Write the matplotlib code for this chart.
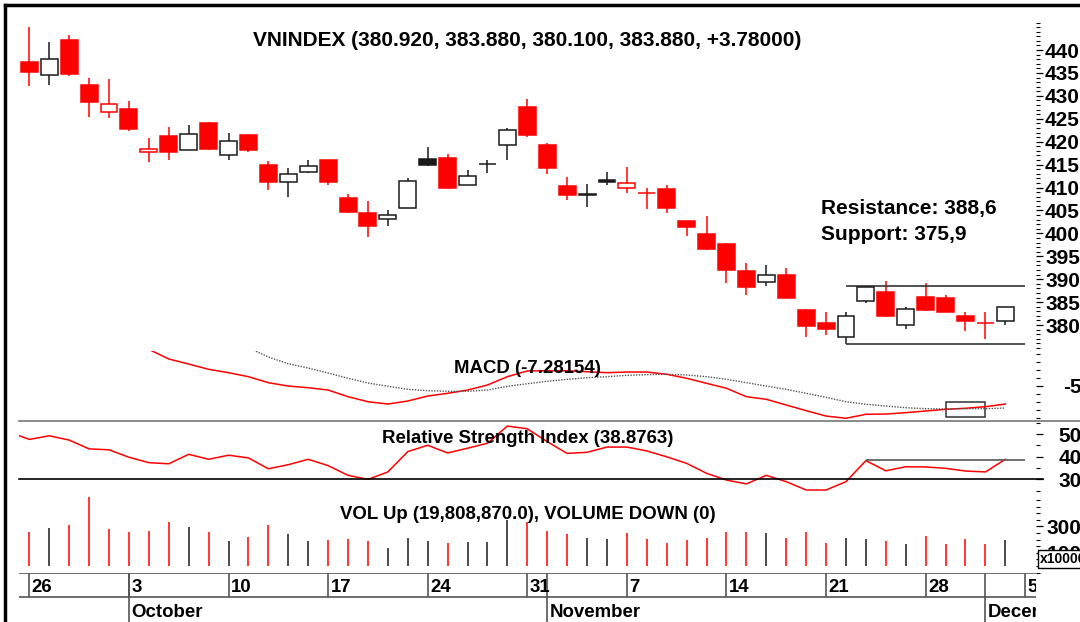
import numpy as np
import matplotlib.pyplot as plt
from matplotlib.patches import Rectangle
from matplotlib.lines import Line2D
from matplotlib.ticker import MultipleLocator
import matplotlib.transforms as mtransforms

plt.rcParams['font.family'] = ['Liberation Sans', 'DejaVu Sans']
plt.rcParams['font.weight'] = 'bold'
plt.rcParams['axes.unicode_minus'] = False

# --- daten (26 Sep -> 2 Dec, ein Eintrag pro Handelstag) ---
opens = [437.4, 434.5, 442.2, 432.3, 426.4, 427.1, 417.7, 421.3, 418.2, 424.1,
         417.1, 421.5, 414.9, 411.3, 413.4, 416.0, 407.7, 404.5, 403.1, 405.6,
         416.2, 416.5, 410.6, 415.1, 419.2, 427.5, 419.3, 410.3, 408.4, 411.7,
         410.0, 408.8, 409.6, 402.7, 399.9, 397.6, 391.7, 389.4, 391.0, 383.3,
         380.5, 377.4, 385.2, 387.3, 379.9, 386.2, 386.0, 381.9, 380.5, 380.92]
highs = [445.1, 441.7, 443.3, 433.9, 433.6, 428.9, 420.8, 423.2, 423.6, 424.3,
         422.0, 421.7, 415.7, 414.2, 416.0, 416.1, 408.5, 407.0, 405.2, 412.1,
         418.8, 417.4, 413.9, 416.0, 423.0, 429.3, 419.7, 412.3, 410.7, 413.3,
         414.4, 410.0, 410.5, 402.8, 403.7, 397.9, 393.6, 393.0, 392.5, 383.5,
         382.8, 382.8, 388.6, 389.5, 384.0, 389.2, 386.6, 382.8, 382.9, 383.88]
lows = [432.2, 432.4, 434.4, 425.3, 425.1, 422.4, 415.6, 416.1, 418.1, 418.2,
        416.1, 417.7, 409.5, 407.9, 413.2, 410.6, 404.4, 399.2, 401.7, 405.5,
        414.7, 409.6, 410.5, 413.2, 415.9, 421.1, 412.9, 407.2, 405.7, 410.6,
        408.8, 405.4, 404.4, 399.4, 396.4, 389.1, 386.6, 388.6, 385.8, 377.4,
        377.9, 375.9, 384.8, 381.7, 379.2, 383.1, 382.8, 378.7, 376.9, 380.10]
closes = [435.2, 438.0, 434.7, 428.7, 428.2, 422.8, 418.5, 417.7, 421.7, 418.4,
          420.1, 418.2, 411.3, 413.0, 414.8, 411.3, 404.6, 401.5, 404.1, 411.4,
          415.0, 409.9, 412.5, 415.2, 422.5, 421.4, 414.3, 408.3, 408.5, 411.2,
          410.9, 408.7, 405.6, 401.4, 396.6, 392.1, 388.2, 390.9, 386.0, 379.7,
          379.2, 381.9, 388.4, 382.0, 383.4, 383.3, 382.9, 380.8, 380.4, 383.88]

# volumen in x100000
volume = [260, 286, 311, 520, 278, 255, 265, 336, 293, 260,
          189, 222, 311, 240, 189, 199, 207, 192, 136, 214,
          192, 177, 184, 180, 348, 336, 265, 240, 214, 207,
          248, 207, 172, 197, 214, 260, 260, 248, 214, 260,
          177, 214, 207, 189, 167, 230, 169, 205, 169, 198.1]

nan = np.nan
macd = [nan] * 6 + [
    -0.45, -1.65, -2.28, -2.94, -3.36, -3.86, -4.61, -5.03, -5.24, -5.53,
    -6.36, -6.99, -7.28, -6.90, -6.28, -5.94, -5.53, -4.90, -3.86, -3.15,
    -3.11, -3.11, -3.24, -3.36, -3.28, -3.28, -3.56, -4.06, -4.69, -5.31,
    -6.36, -6.69, -7.40, -8.11, -8.78, -9.06, -8.56, -8.53, -8.36, -8.15,
    -7.94, -7.81, -7.61, -7.28154]
signal = [nan] * 11 + [
    -0.25, -1.40, -2.24, -2.78, -3.40, -4.06, -4.65, -5.06, -5.44, -5.61,
    -5.69, -5.69, -5.53, -5.06, -4.74, -4.44, -4.19, -3.99, -3.86, -3.69,
    -3.61, -3.56, -3.65, -3.86, -4.19, -4.61, -5.03, -5.44, -5.94, -6.44,
    -6.99, -7.31, -7.53, -7.74, -7.86, -7.90, -7.86, -7.86, -7.78]

rsi_prev = 50.9   # 23 Sep
rsi = [47.7, 49.3, 47.4, 43.5, 43.1, 39.8, 37.4, 36.9, 41.1, 38.9,
       40.7, 39.5, 34.7, 36.5, 38.9, 36.1, 31.8, 30.0, 33.3, 42.3,
       45.1, 41.7, 43.8, 46.0, 53.6, 52.4, 46.7, 41.5, 42.0, 44.3,
       44.3, 42.6, 40.0, 37.1, 32.7, 29.7, 28.0, 31.8, 29.0, 25.3,
       25.3, 29.0, 38.3, 33.8, 35.6, 35.5, 34.9, 33.7, 33.3, 38.8763]

resistance, support = 388.6, 375.9
rsi_level = 38.5

day_pos = [0, 5, 10, 15, 20, 25, 30, 35, 40, 45, 50]
day_labels = ["26", "3", "10", "17", "24", "31", "7", "14", "21", "28", "5"]
month_pos = [5, 26, 48]
month_labels = ["October", "November", "December"]

price_ticks = [380, 385, 390, 395, 400, 405, 410, 415, 420, 425, 430, 435, 440]
macd_ticks = [-5]
rsi_ticks = [30, 40, 50]
vol_ticks = [100, 300]

W, H = 1080, 622
RED = '#ff0000'
DARK = '#1a1a1a'
days = np.arange(len(closes))


def rect(top, bottom, left=19, right=1036):
    return [left / W, 1 - bottom / H, (right - left) / W, (bottom - top) / H]


fig = plt.figure(figsize=(W / 100, H / 100), dpi=100)
ax_p = fig.add_axes(rect(22, 351))
ax_m = fig.add_axes(rect(351, 421))
ax_r = fig.add_axes(rect(421, 497))
ax_v = fig.add_axes(rect(497, 573))
ax_d = fig.add_axes(rect(573, 622))

for ax in [ax_p, ax_m, ax_r, ax_v, ax_d]:
    ax.set_xlim(-0.52, 50.54)
    ax.set_facecolor('none')
    for s in ax.spines.values():
        s.set_visible(False)
    ax.set_xticks([])

# farbe: rot wenn schluss unter vortagesschluss
ref = [opens[0]] + closes[:-1]
colors = [RED if c < r else DARK for c, r in zip(closes, ref)]

# --- kerzen ---
for i in days:
    o, h, l, c = opens[i], highs[i], lows[i], closes[i]
    col = colors[i]
    ax_p.vlines(i, l, h, color=col, lw=1.1, zorder=2)
    face = 'white' if c > o else col
    ax_p.add_patch(Rectangle((i - 0.425, min(o, c)), 0.85, abs(c - o),
                             facecolor=face, edgecolor=col, lw=1.1, zorder=3))
ax_p.hlines([resistance, support], 41, 50, colors='#333333', lw=1.2)
ax_p.set_ylim(374.33, 446.11)
ax_p.yaxis.tick_right()
ax_p.set_yticks(price_ticks)
ax_p.yaxis.set_minor_locator(MultipleLocator(1))
ax_p.tick_params(axis='y', which='major', length=5, width=0.9, pad=1.5, labelsize=15)
ax_p.tick_params(axis='y', which='minor', length=3, width=0.8)

# --- macd ---
ax_m.plot(days, macd, color=RED, lw=1.1)
ax_m.plot(days, signal, color='#555555', lw=1.0, ls=(0, (1, 1)))
ax_m.add_patch(Rectangle((46, -8.86), 2, 1.87, fill=False, edgecolor='#333333', lw=1.1))
ax_m.set_ylim(-9.4, -0.65)

# --- rsi ---
ax_r.plot(np.r_[-1, days], [rsi_prev] + rsi, color=RED, lw=1.1)
ax_r.axhline(30, xmin=0, xmax=1.007, color='black', lw=1.2, clip_on=False)
ax_r.hlines(rsi_level, 42, 50, colors='#555555', lw=1.2)
ax_r.set_ylim(22.21, 55.84)

# --- volumen ---
ax_v.vlines(days, 0, volume, colors=colors, lw=1.1)
ax_v.set_ylim(-53, 522.7)

for ax, ticks, minor in [(ax_m, macd_ticks, 1), (ax_r, rsi_ticks, 5), (ax_v, vol_ticks, 50)]:
    ax.yaxis.tick_right()
    ax.set_yticks(ticks)
    ax.yaxis.set_minor_locator(MultipleLocator(minor))
    ax.tick_params(axis='y', which='major', length=5, width=0.9, pad=27.8, labelsize=15)
    ax.tick_params(axis='y', which='minor', length=3, width=0.8)
    plt.setp(ax.yaxis.get_majorticklabels(), ha='right')

# --- datumsachse ---
ax_d.set_ylim(49, 0)
ax_d.set_yticks([])
ax_d.hlines([0, 23.7], -0.52, 50.54, colors='#555555', lw=1.2)
ax_d.vlines(day_pos, 0, 23.7, colors='#555555', lw=1.2)
ax_d.vlines(month_pos, 0, 49, colors='#555555', lw=1.2)
off = mtransforms.offset_copy(ax_d.transData, fig=fig, x=2.4, y=0, units='dots')
for p, lab in zip(day_pos, day_labels):
    ax_d.text(p, 18.7, lab, transform=off, fontsize=13.4, va='baseline', clip_on=True)
for p, lab in zip(month_pos, month_labels):
    ax_d.text(p, 43.7, lab, transform=off, fontsize=13.4, va='baseline', clip_on=True)

# --- texte ---
cx = 527.5 / W
fig.text(cx, 1 - 45.7 / H, "VNINDEX (380.920, 383.880, 380.100, 383.880, +3.78000)",
         ha='center', va='baseline', fontsize=15)
fig.text(821 / W, 1 - 214 / H, "Resistance: 388,6", va='baseline', fontsize=15)
fig.text(821 / W, 1 - 240 / H, "Support: 375,9", va='baseline', fontsize=15)
fig.text(cx, 1 - 372.7 / H, "MACD (-7.28154)", ha='center', va='baseline', fontsize=13.4)
fig.text(cx, 1 - 442.7 / H, "Relative Strength Index (38.8763)", ha='center', va='baseline', fontsize=13.4)
fig.text(cx, 1 - 519 / H, "VOL Up (19,808,870.0), VOLUME DOWN (0)", ha='center', va='baseline', fontsize=13.4)

# kasten x100000
fig.add_artist(Rectangle((1038 / W, 1 - 568 / H), 44 / W, 18 / H, transform=fig.transFigure,
                         facecolor='white', edgecolor='black', lw=1.0, zorder=5))
fig.text(1040 / W, 1 - 559 / H, "x100000", va='center', fontsize=10, zorder=6)

# trennlinie und rahmen
fig.add_artist(Line2D([19 / W, 1], [1 - 421 / H] * 2, color='#777777', lw=1.2))
fig.add_artist(Line2D([5 / W, 5 / W], [0, 1 - 5 / H], color='black', lw=2.5))
fig.add_artist(Line2D([5 / W, 1], [1 - 5 / H] * 2, color='black', lw=2.5))

fig.savefig("out.png", dpi=100)
